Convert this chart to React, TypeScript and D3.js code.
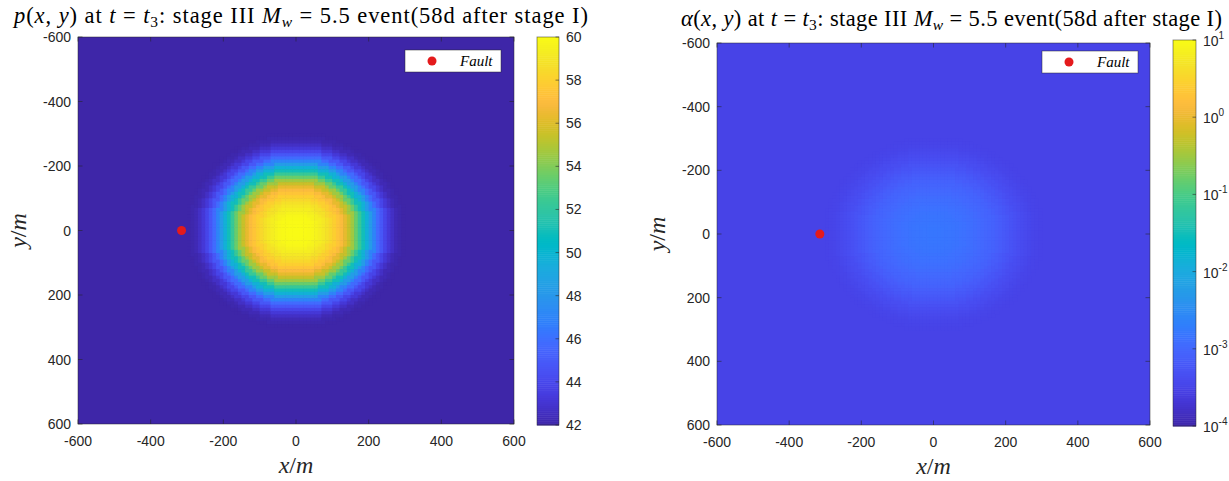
import React from "react";
import * as d3 from "d3";

// ---------- data ----------
const axisTicks = [-600, -400, -200, 0, 200, 400, 600];
const gridStep = 10; // m, cell size of the field
const profileStep = 10; // m, radial step of the profiles below
// pressure p (radial profile about (0,0)), r = 0,10,...,300 m
const pProfile = [60, 60, 60, 59.95, 59.9, 59.8, 59.6, 59.4, 59.1, 58.8, 58.4, 58.0, 57.5, 57.0, 56.3, 55.5, 54.6, 53.5, 52.3, 51.0, 49.7, 48.3, 47.0, 45.8, 44.8, 43.9, 43.2, 42.7, 42.3, 42.1, 42.0];
// alpha (radial profile about (0,0)), r = 0,10,...,300 m
const alphaProfile = [1.6e-3, 1.6e-3, 1.6e-3, 1.58e-3, 1.55e-3, 1.53e-3, 1.5e-3, 1.45e-3, 1.4e-3, 1.35e-3, 1.3e-3, 1.24e-3, 1.18e-3, 1.11e-3, 1.05e-3, 9.8e-4, 9.2e-4, 8.5e-4, 7.8e-4, 7.1e-4, 6.5e-4, 5.9e-4, 5.3e-4, 4.8e-4, 4.4e-4, 4.1e-4, 3.8e-4, 3.6e-4, 3.4e-4, 3.3e-4, 3.2e-4];
const pColorTicks = [42, 44, 46, 48, 50, 52, 54, 56, 58, 60];
const alphaColorExponents = [-4, -3, -2, -1, 0, 1];
const faultX = [-315];
const faultY = [0];
const legendLabel = ["Fault"];

// parula colormap (MATLAB)
const parula: number[][] = [[0.2422,0.1504,0.6603],[0.2504,0.1650,0.7076],[0.2578,0.1818,0.7511],[0.2647,0.1978,0.7952],[0.2706,0.2147,0.8364],[0.2751,0.2342,0.8710],[0.2783,0.2559,0.8991],[0.2803,0.2782,0.9221],[0.2813,0.3006,0.9414],[0.2810,0.3228,0.9579],[0.2795,0.3447,0.9717],[0.2760,0.3667,0.9829],[0.2699,0.3892,0.9906],[0.2602,0.4123,0.9952],[0.2440,0.4358,0.9988],[0.2206,0.4603,0.9973],[0.1963,0.4847,0.9892],[0.1834,0.5074,0.9798],[0.1786,0.5289,0.9682],[0.1764,0.5499,0.9520],[0.1687,0.5703,0.9359],[0.1540,0.5902,0.9218],[0.1460,0.6091,0.9079],[0.1380,0.6276,0.8973],[0.1248,0.6459,0.8883],[0.1113,0.6635,0.8763],[0.0952,0.6798,0.8598],[0.0689,0.6948,0.8394],[0.0297,0.7082,0.8163],[0.0036,0.7203,0.7917],[0.0067,0.7312,0.7660],[0.0433,0.7411,0.7394],[0.0964,0.7500,0.7120],[0.1408,0.7584,0.6842],[0.1717,0.7670,0.6554],[0.1938,0.7758,0.6251],[0.2161,0.7843,0.5923],[0.2470,0.7918,0.5567],[0.2906,0.7973,0.5188],[0.3406,0.8008,0.4789],[0.3909,0.8029,0.4354],[0.4456,0.8024,0.3909],[0.5044,0.7993,0.3480],[0.5616,0.7942,0.3045],[0.6174,0.7876,0.2612],[0.6720,0.7793,0.2227],[0.7242,0.7698,0.1910],[0.7738,0.7598,0.1646],[0.8203,0.7498,0.1535],[0.8634,0.7406,0.1596],[0.9035,0.7330,0.1774],[0.9393,0.7288,0.2100],[0.9728,0.7298,0.2394],[0.9956,0.7434,0.2371],[0.9970,0.7659,0.2199],[0.9952,0.7893,0.2028],[0.9892,0.8136,0.1885],[0.9786,0.8386,0.1766],[0.9676,0.8639,0.1643],[0.9610,0.8890,0.1537],[0.9597,0.9135,0.1423],[0.9628,0.9373,0.1265],[0.9691,0.9606,0.1064],[0.9769,0.9839,0.0805]];

const parulaColor = (t: number) => {
  const tt = Math.max(0, Math.min(1, t));
  const n = parula.length - 1;
  const f = tt * n;
  const i = Math.min(n - 1, Math.floor(f));
  const u = f - i;
  const a = parula[i], b = parula[i + 1];
  return d3.rgb((a[0] + (b[0] - a[0]) * u) * 255, (a[1] + (b[1] - a[1]) * u) * 255, (a[2] + (b[2] - a[2]) * u) * 255).toString();
};

const AX = "#262626";
const SANS = "'Liberation Sans', Arial, sans-serif";
const SERIF = "'Liberation Serif', 'Times New Roman', serif";

type PanelCfg = {
  x0: number; x1: number; y0: number; y1: number;
  cbX: number; cbW: number; cbY0: number; cbY1: number;
  titleX: number; titleW: number; titleY: number; legX: number; legY: number;
  kind: "p" | "alpha";
};

const panels: PanelCfg[] = [
  { x0: 78, x1: 514, y0: 37, y1: 424, cbX: 537, cbW: 22, cbY0: 37, cbY1: 425, titleX: 14, titleW: 574, titleY: 23, legX: 405, legY: 50, kind: "p" },
  { x0: 717, x1: 1150, y0: 43, y1: 425, cbX: 1173, cbW: 23, cbY0: 40, cbY1: 426, titleX: 681, titleW: 541, titleY: 26, legX: 1042, legY: 51, kind: "alpha" },
];

function lookup(profile: number[], r: number) {
  const idx = Math.round(r / profileStep);
  return idx >= profile.length ? profile[profile.length - 1] : profile[idx];
}

function Panel({ cfg }: { cfg: PanelCfg }) {
  const xs = d3.scaleLinear().domain([-600, 600]).range([cfg.x0, cfg.x1]);
  const ys = d3.scaleLinear().domain([-600, 600]).range([cfg.y0, cfg.y1]);
  const isP = cfg.kind === "p";
  const cscale = isP
    ? d3.scaleLinear().domain([42, 60]).range([0, 1]).clamp(true)
    : d3.scaleLog().domain([1e-4, 10]).range([0, 1]).clamp(true);
  const cbScale = isP
    ? d3.scaleLinear().domain([42, 60]).range([cfg.cbY1, cfg.cbY0])
    : d3.scaleLog().domain([1e-4, 10]).range([cfg.cbY1, cfg.cbY0]);

  const profile = isP ? pProfile : alphaProfile;
  const bg = parulaColor(cscale(profile[profile.length - 1]) as number);
  const cells: JSX.Element[] = [];
  const edges = d3.range(-600, 600, gridStep);
  const cw = xs(gridStep) - xs(0);
  const ch = ys(gridStep) - ys(0);
  edges.forEach((gx, i) => {
    edges.forEach((gy, j) => {
      const cx = gx + gridStep / 2, cy = gy + gridStep / 2;
      const r = Math.hypot(cx, cy);
      if (r > profileStep * (profile.length - 0.5)) return;
      const v = lookup(profile, r);
      cells.push(
        <rect key={`${i}-${j}`} x={xs(gx)} y={ys(gy)} width={cw + 0.6} height={ch + 0.6} fill={parulaColor(cscale(v) as number)} />
      );
    });
  });

  const clipId = `clip-${cfg.kind}`;
  const tickLen = 4.5;
  const cbSteps = d3.range(0, 200);
  const cbH = (cfg.cbY1 - cfg.cbY0) / 200;

  const midX = (cfg.x0 + cfg.x1) / 2;
  const it = { fontStyle: "italic" as const };

  return (
    <g>
      <defs>
        <clipPath id={clipId}>
          <rect x={cfg.x0} y={cfg.y0} width={cfg.x1 - cfg.x0} height={cfg.y1 - cfg.y0} />
        </clipPath>
      </defs>
      <g clipPath={`url(#${clipId})`}>
        <rect x={cfg.x0} y={cfg.y0} width={cfg.x1 - cfg.x0} height={cfg.y1 - cfg.y0} fill={bg} />
        {cells}
      </g>
      {/* box */}
      <rect x={cfg.x0} y={cfg.y0} width={cfg.x1 - cfg.x0} height={cfg.y1 - cfg.y0} fill="none" stroke={AX} strokeOpacity={0.6} strokeWidth={0.8} />
      {/* ticks */}
      {axisTicks.map(t => (
        <g key={`tx${t}`} stroke={AX} strokeWidth={0.8} strokeOpacity={0.7}>
          <line x1={xs(t)} x2={xs(t)} y1={cfg.y1} y2={cfg.y1 - tickLen} />
          <line x1={xs(t)} x2={xs(t)} y1={cfg.y0} y2={cfg.y0 + tickLen} />
          <line x1={cfg.x0} x2={cfg.x0 + tickLen} y1={ys(t)} y2={ys(t)} />
          <line x1={cfg.x1} x2={cfg.x1 - tickLen} y1={ys(t)} y2={ys(t)} />
        </g>
      ))}
      {axisTicks.map(t => (
        <text key={`lx${t}`} x={xs(t)} y={cfg.y1 + 22} textAnchor="middle" fontFamily={SANS} fontSize={14} fill={AX}>{t}</text>
      ))}
      {axisTicks.map(t => (
        <text key={`ly${t}`} x={cfg.x0 - 7} y={ys(t) + 5} textAnchor="end" fontFamily={SANS} fontSize={14} fill={AX}>{t}</text>
      ))}
      {/* axis labels */}
      <text x={midX} y={cfg.y1 + 49} textAnchor="middle" fontFamily={SERIF} fontSize={24} fill={AX}>
        <tspan style={it}>x</tspan>/<tspan style={it}>m</tspan>
      </text>
      <text transform={`translate(${cfg.x0 - 52},${(cfg.y0 + cfg.y1) / 2}) rotate(-90)`} textAnchor="middle" fontFamily={SERIF} fontSize={24} fill={AX}>
        <tspan style={it}>y</tspan>/<tspan style={it}>m</tspan>
      </text>
      {/* title */}
      <text x={cfg.titleX} y={cfg.titleY} textLength={cfg.titleW} lengthAdjust="spacing" fontFamily={SERIF} fontSize={22.5} fill="#000">
        <tspan style={it}>{isP ? "p" : "α"}</tspan>(<tspan style={it}>x</tspan>, <tspan style={it}>y</tspan>) at <tspan style={it}>t</tspan> = <tspan style={it}>t</tspan>
        <tspan fontSize={15.5} dy={4}>3</tspan><tspan dy={-4}>: stage III </tspan><tspan style={it}>M</tspan>
        <tspan fontSize={15.5} dy={4} style={it}>w</tspan><tspan dy={-4}> = 5.5 event(58d after stage I)</tspan>
      </text>
      {/* fault */}
      {faultX.map((fx, k) => (
        <circle key={`f${k}`} cx={xs(fx)} cy={ys(faultY[k])} r={4.5} fill="#e41a1c" />
      ))}
      {/* legend */}
      <rect x={cfg.legX} y={cfg.legY} width={96} height={22} fill="#fff" stroke={AX} strokeOpacity={0.6} strokeWidth={0.8} />
      <circle cx={cfg.legX + 27} cy={cfg.legY + 11} r={4.5} fill="#e41a1c" />
      <text x={cfg.legX + 55} y={cfg.legY + 16} fontFamily={SERIF} fontStyle="italic" fontSize={15} fill="#000">{legendLabel[0]}</text>
      {/* colorbar */}
      {cbSteps.map(s => (
        <rect key={`cb${s}`} x={cfg.cbX} y={cfg.cbY1 - (s + 1) * cbH} width={cfg.cbW} height={cbH + 0.5} fill={parulaColor((s + 0.5) / 200)} />
      ))}
      <rect x={cfg.cbX} y={cfg.cbY0} width={cfg.cbW} height={cfg.cbY1 - cfg.cbY0} fill="none" stroke={AX} strokeOpacity={0.6} strokeWidth={0.8} />
      {isP
        ? pColorTicks.map(t => (
            <g key={`ct${t}`}>
              <line x1={cfg.cbX + cfg.cbW} x2={cfg.cbX + cfg.cbW - 3.5} y1={cbScale(t)} y2={cbScale(t)} stroke={AX} strokeWidth={0.8} strokeOpacity={0.7} />
              <text x={cfg.cbX + cfg.cbW + 7} y={cbScale(t) + 5} fontFamily={SANS} fontSize={14} fill={AX}>{t}</text>
            </g>
          ))
        : alphaColorExponents.map(e => (
            <g key={`ce${e}`}>
              <line x1={cfg.cbX + cfg.cbW} x2={cfg.cbX + cfg.cbW - 3.5} y1={cbScale(Math.pow(10, e))} y2={cbScale(Math.pow(10, e))} stroke={AX} strokeWidth={0.8} strokeOpacity={0.7} />
              <text x={cfg.cbX + cfg.cbW + 7} y={cbScale(Math.pow(10, e)) + 6} fontFamily={SANS} fontSize={14} fill={AX}>
                10<tspan fontSize={10} dy={-7}>{e}</tspan>
              </text>
            </g>
          ))}
    </g>
  );
}

export default function App() {
  return (
    <svg width={1229} height={481} style={{ position: "absolute", left: 0, top: 0, background: "#fff" }}>
      <rect x={0} y={0} width={1229} height={481} fill="#fff" />
      {panels.map(p => (
        <Panel key={p.kind} cfg={p} />
      ))}
    </svg>
  );
}
